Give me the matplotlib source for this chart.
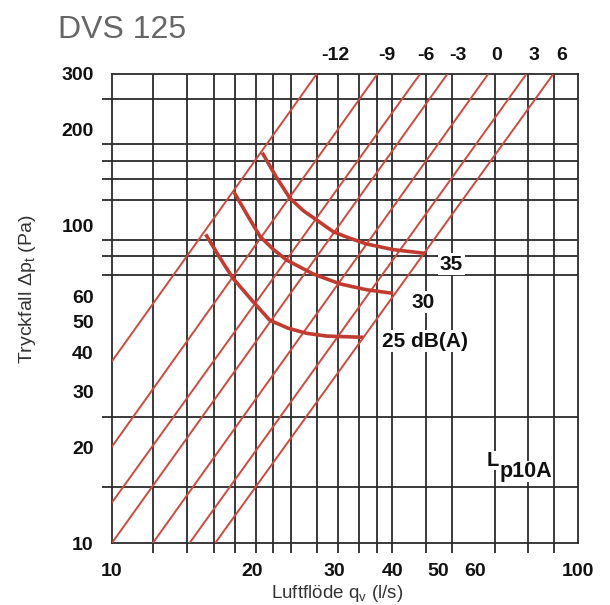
import matplotlib
matplotlib.use("Agg")
import matplotlib.pyplot as plt
from matplotlib.ticker import FixedLocator, FixedFormatter, NullFormatter

plt.rcParams['font.family'] = ['Liberation Sans', 'DejaVu Sans']
plt.rcParams['mathtext.fontset'] = 'custom'
plt.rcParams['mathtext.rm'] = 'Liberation Sans'
plt.rcParams['mathtext.it'] = 'Liberation Sans:italic'
plt.rcParams['mathtext.bf'] = 'Liberation Sans:bold'

# ---------------- data ----------------
title = "DVS 125"
x_label = "Luftflöde q$_\\mathregular{v}$ (l/s)"
y_label = "Tryckfall Δp$_\\mathregular{t}$ (Pa)"

x_ticks = [10, 20, 30, 40, 50, 60, 100]
x_tick_labels = ["10", "20", "30", "40", "50", "60", "100"]
y_ticks = [10, 20, 30, 40, 50, 60, 100, 200, 300]
y_tick_labels = ["10", "20", "30", "40", "50", "60", "100", "200", "300"]

x_grid = [10, 12.24, 14.48, 16.56, 18.4, 20.35, 22.17, 24.19, 27.5, 30.6,
          33.9, 36.98, 39.8, 47.2, 53.7, 66.3, 77.9, 88.8, 100]
y_grid = [10, 15, 20, 25, 30, 40, 50, 60, 70, 80, 90, 100, 120, 140, 160,
          180, 200, 250, 300]

# damper position lines (setting labels on top)
line_labels = ["-12", "-9", "-6", "-3", "0", "3", "6"]
line_q_start = [10, 10, 10, 10, 12.24, 14.67, 16.65]
line_p_start = [37.3, 20.1, 13.4, 10, 10, 10, 10]
line_q_end = [27.5, 37.1, 45.8, 52.4, 64.1, 77.4, 88.4]
line_p_end = [300, 300, 300, 300, 300, 300, 300]

# sound level curves
curve_labels = ["35", "30", "25 dB(A)"]
curve35_q = [21.02, 22.5, 24.1, 25.74, 27.5, 29.85, 32.42, 35.2, 40.13, 46.9]
curve35_p = [169.6, 142.5, 121.9, 111.4, 104.1, 95.6, 91.2, 87.5, 84.0, 81.8]
curve30_q = [18.3, 19.47, 20.8, 22.2, 23.7, 27.04, 30.9, 35.2, 40.1]
curve30_p = [127.2, 108.7, 92.3, 84.2, 77.9, 70.4, 65.5, 62.8, 61.2]
curve25_q = [15.9, 17.0, 18.2, 19.95, 21.8, 23.9, 26.2, 28.9, 34.6]
curve25_p = [93.9, 79.8, 68.2, 58.3, 50.4, 47.5, 45.8, 44.9, 44.5]

lp_label_main = "L"
lp_label_sub = "p10A"

# ---------------- layout / style (not data) ----------------
top_label_dx = [19, 10, 6, 11, 8, 8, 8]          # pixel offsets of setting labels
curve_label_off = [(15, -11), (18, -9), (19, -4)]  # pixel offsets of curve labels

W, H = 610, 605
fig = plt.figure(figsize=(W / 100, H / 100), dpi=100)
ax = fig.add_axes([111.7 / W, 1 - 543.3 / H, 466.6 / W, 469.3 / H])
ax.set_xscale("log")
ax.set_yscale("log")
ax.set_xlim(10, 100)
ax.set_ylim(10, 300)

grid_color = "#2b2b2b"
for s in ax.spines.values():
    s.set_color(grid_color)
    s.set_linewidth(1.3)

ax.xaxis.set_major_locator(FixedLocator(x_ticks))
ax.xaxis.set_major_formatter(FixedFormatter(x_tick_labels))
ax.xaxis.set_minor_locator(FixedLocator(x_grid))
ax.xaxis.set_minor_formatter(NullFormatter())
ax.yaxis.set_major_locator(FixedLocator(y_ticks))
ax.yaxis.set_major_formatter(FixedFormatter(y_tick_labels))
ax.yaxis.set_minor_locator(FixedLocator(y_grid))
ax.yaxis.set_minor_formatter(NullFormatter())

ax.tick_params(which="major", length=0, labelsize=14)
ax.tick_params(axis="x", which="major", pad=14.5)
ax.tick_params(axis="y", which="major", pad=13)
ax.tick_params(which="minor", length=7.5, width=1.3, color=grid_color)
ax.grid(False, which="major")
ax.grid(True, which="minor", color=grid_color, linewidth=1.3)
for lab in ax.get_xticklabels() + ax.get_yticklabels():
    lab.set_fontweight("bold")
    lab.set_color("#111111")

red_thin = "#cc4a3e"
red_thick = "#c23b30"
for qs, ps, qe, pe, lab, dx in zip(line_q_start, line_p_start, line_q_end,
                                   line_p_end, line_labels, top_label_dx):
    ax.plot([qs, qe], [ps, pe], color=red_thin, lw=1.4, zorder=3,
            solid_capstyle="butt")
    ax.annotate(lab, xy=(qe, pe), xytext=(dx, 19), textcoords="offset pixels",
                ha="center", va="center", fontsize=14, fontweight="bold",
                color="#111111", annotation_clip=False)

curves = [(curve35_q, curve35_p), (curve30_q, curve30_p), (curve25_q, curve25_p)]
for (cq, cp), lab, off in zip(curves, curve_labels, curve_label_off):
    ax.plot(cq, cp, color=red_thick, lw=2.6, zorder=4, solid_capstyle="butt",
            solid_joinstyle="round")
    ax.annotate(lab, xy=(cq[-1], cp[-1]), xytext=off,
                textcoords="offset pixels", ha="left", va="center",
                fontsize=15, fontweight="bold", color="#111111", zorder=5,
                bbox=dict(facecolor="white", edgecolor="none", pad=1.0))

fig.text(486.5 / W, 1 - 466 / H, lp_label_main, fontsize=14.5,
         fontweight="bold", color="#111111", ha="left", va="baseline",
         zorder=5, bbox=dict(facecolor="white", edgecolor="none", pad=0))
fig.text(499.5 / W, 1 - 477 / H, lp_label_sub, fontsize=15.5,
         fontweight="bold", color="#111111", ha="left", va="baseline",
         zorder=5, bbox=dict(facecolor="white", edgecolor="none", pad=0))

fig.text(58 / W, 1 - 38.5 / H, title, fontsize=23, color="#666666",
         ha="left", va="baseline")
fig.text(337 / W, 1 - 594 / H, x_label, fontsize=13.5, color="#333333",
         ha="center", va="center")
fig.text(28 / W, 1 - 289 / H, y_label, fontsize=14, color="#333333",
         ha="center", va="center", rotation=90)

fig.savefig("out.png", dpi=100)
